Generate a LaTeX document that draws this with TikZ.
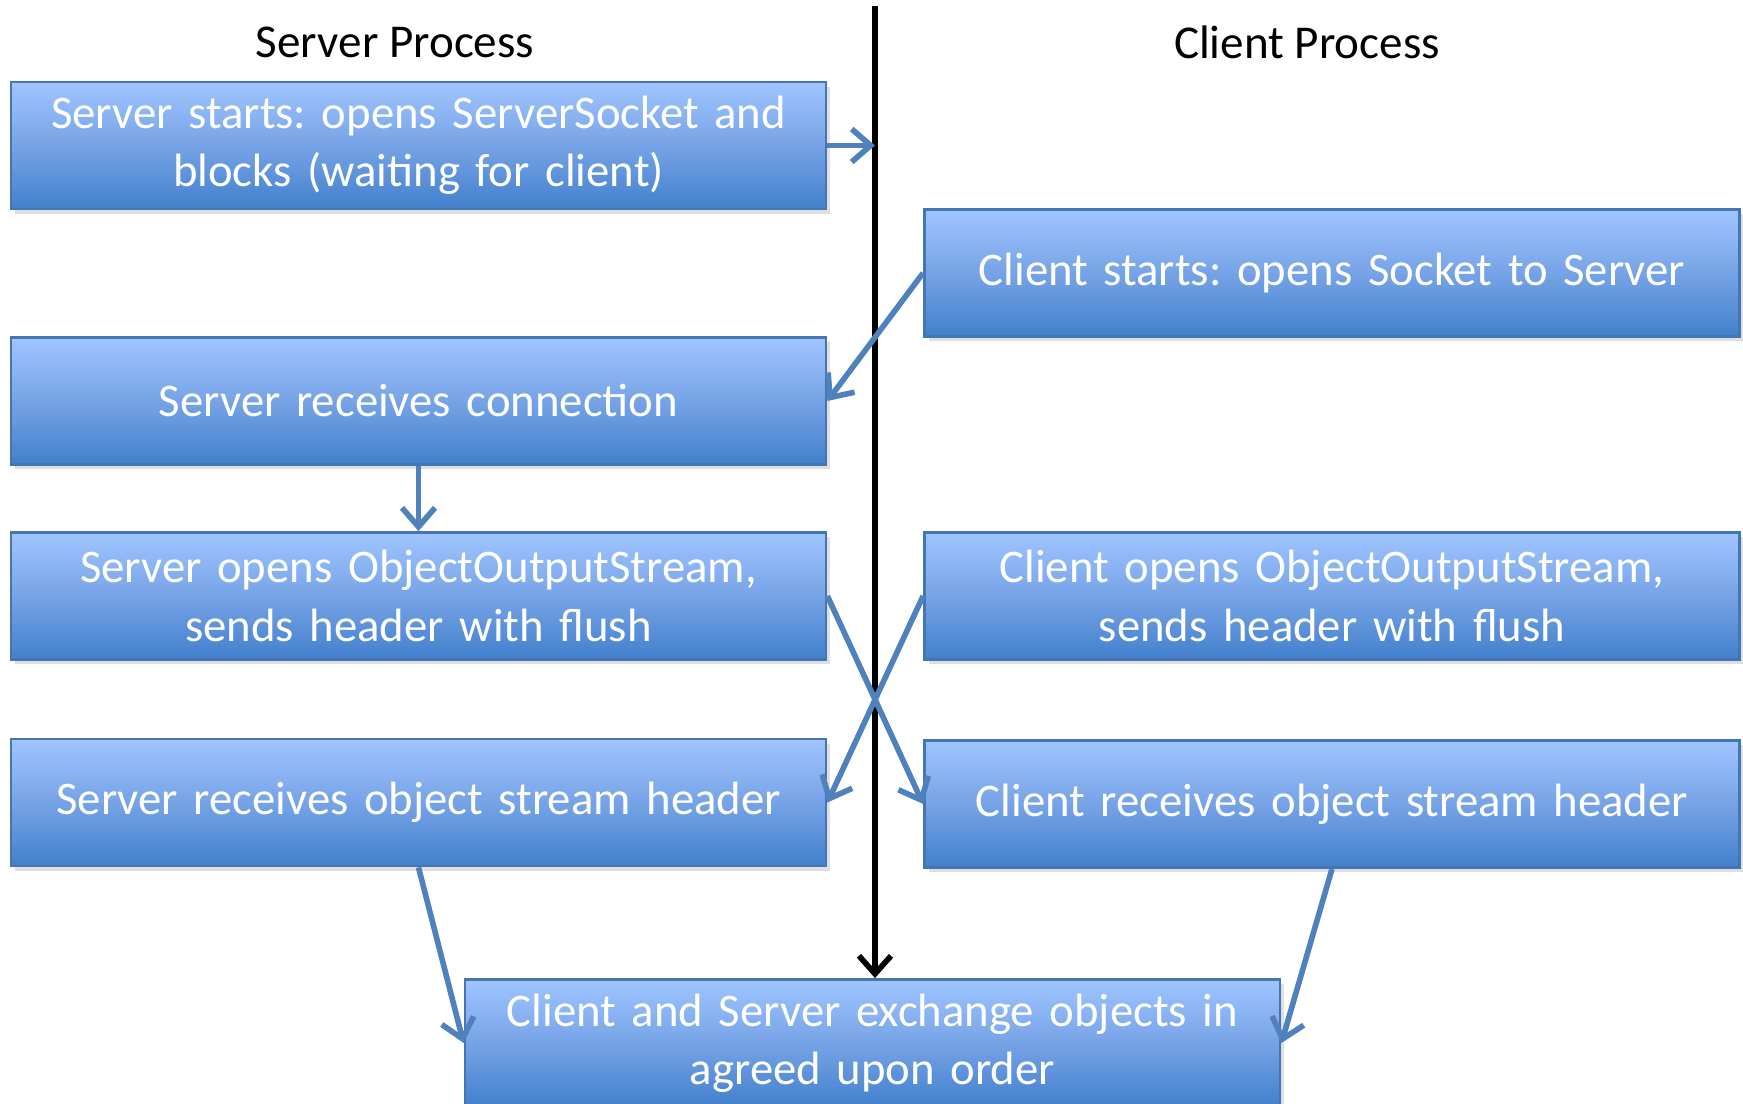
\documentclass[tikz,border=0pt]{standalone}
\usepackage{fontspec}
\setmainfont{Carlito}
\usepackage{xcolor}
\usetikzlibrary{positioning,arrows.meta,shadows,calc}
\definecolor{boxtop}{RGB}{160,197,255}
\definecolor{boxmid}{RGB}{118,163,230}
\definecolor{boxbot}{RGB}{66,128,205}
\definecolor{boxline}{RGB}{70,118,178}
\definecolor{flowblue}{RGB}{79,129,189}
\frenchspacing

\begin{document}
\begin{tikzpicture}[
  stepbox/.style={draw=boxline, line width=0.8pt, top color=boxtop, bottom color=boxbot,
    middle color=boxmid, minimum width=8.15cm, minimum height=1.27cm,
    text width=7.9cm, align=center, text=white, inner sep=0pt,
    font=\fontsize{13.3}{16.6}\selectfont,
    drop shadow={opacity=0.25, shadow xshift=0.04cm, shadow yshift=-0.05cm}},
  title/.style={font=\fontsize{13.4}{16.2}\selectfont, text=black},
  flow/.style={draw=flowblue, line width=1.6pt, -{Straight Barb[length=1.9mm, width=3.3mm]}},
  timeline/.style={draw=black, line width=1.6pt, -{Straight Barb[length=1.8mm, width=3.2mm]}},
]
\useasboundingbox (0,0) rectangle (17.43,-11.04);

% column titles
\node[title] (stitle) at (3.95,-0.42) {Server Process};
\node[title] (ctitle) at (13.07,-0.42) {Client Process};

% server side
\node[stepbox] (sstart) at (4.185,-1.455) {Server starts: opens ServerSocket and\\blocks (waiting for client)};
\node[stepbox] (srecv) at (4.185,-4.01) {Server receives connection};
\node[stepbox] (sopen) at (4.185,-5.96) {Server opens ObjectOutputStream,\\sends header with flush};
\node[stepbox] (shdr) at (4.185,-8.025) {Server receives object stream header};

% client side
\node[stepbox] (cstart) at (13.32,-2.73) {Client starts: opens Socket to Server};
\node[stepbox] (copen) at (13.32,-5.96) {Client opens ObjectOutputStream,\\sends header with flush};
\node[stepbox] (chdr) at (13.32,-8.04) {Client receives object stream header};

% both
\node[stepbox] (exch) at (8.725,-10.43) {Client and Server exchange objects in\\agreed upon order};

% time line between the two processes
\coordinate (top) at (8.75,-0.06);
\draw[timeline] (top) -- (top |- exch.north);

% messages
\draw[flow] (sstart.east) -- (sstart.east -| top);
\draw[flow] (cstart.west) -- (srecv.east);
\draw[flow] (srecv.south) -- (sopen.north);
\draw[flow] (sopen.east) -- (chdr.west);
\draw[flow] (copen.west) -- (shdr.east);
\draw[flow] (shdr.south) -- (exch.west);
\draw[flow] (chdr.south) -- (exch.east);
\end{tikzpicture}
\end{document}
